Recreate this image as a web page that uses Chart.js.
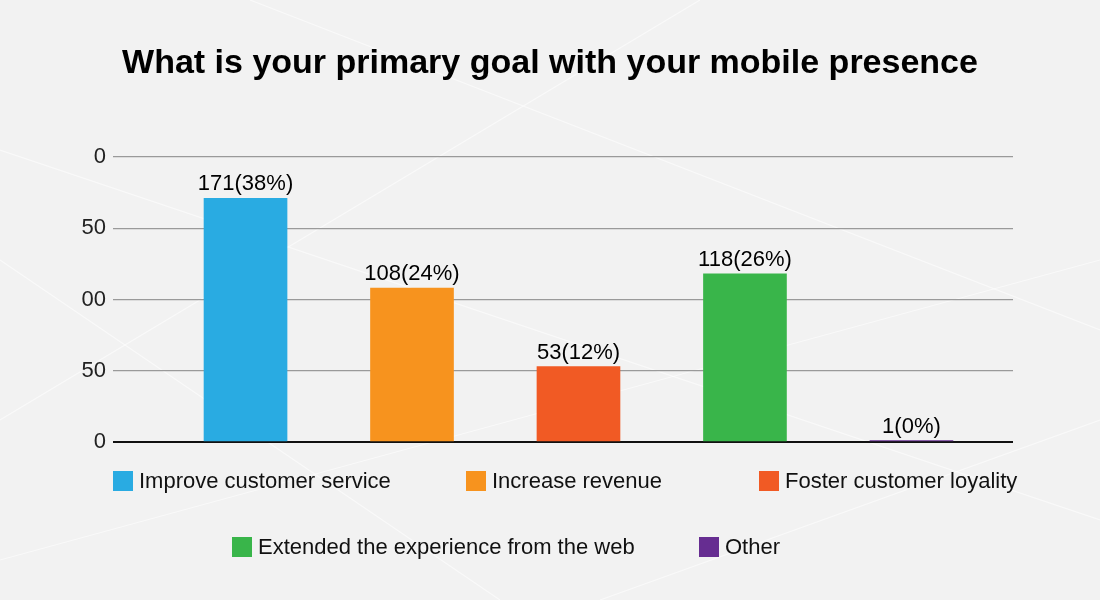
<!DOCTYPE html>
<html>
<head>
<meta charset="utf-8">
<script src="https://cdn.jsdelivr.net/npm/chart.js@4"></script>
<style>
  html, body { margin: 0; padding: 0; background: #f2f2f2; }
  canvas { display: block; }
</style>
</head>
<body>
<canvas id="c" width="1100" height="600"></canvas>
<script>
const titleText = 'What is your primary goal with your mobile presence';
const categories = ['Improve customer service', 'Increase revenue', 'Foster customer loyality', 'Extended the experience from the web', 'Other'];
const counts = [171, 108, 53, 118, 1];
const percents = ['38%', '24%', '12%', '26%', '0%'];
const colors = ['#29abe2', '#f7931e', '#f15a24', '#39b54a', '#662d91'];
const tickValues = [0, 50, 100, 150, 200];
const tickLabels = ['0', '50', '00', '50', '0'];

const FONT = '"Liberation Sans", Arial, sans-serif';

// legend layout (positions only)
const legendPos = [
  { x: 113, y: 481 }, { x: 466, y: 481 }, { x: 759, y: 481 },
  { x: 232, y: 547 }, { x: 699, y: 547 }
];

const bgPlugin = {
  id: 'bg',
  beforeDraw(chart) {
    const c = chart.ctx;
    c.save();
    c.fillStyle = '#f2f2f2';
    c.fillRect(0, 0, chart.width, chart.height);
    c.strokeStyle = 'rgba(255,255,255,0.55)';
    c.lineWidth = 1.2;
    const segs = [[0, 150, 1100, 520], [0, 560, 1100, 260], [250, 0, 1100, 330], [0, 420, 700, 0], [600, 600, 1100, 420], [0, 260, 500, 600]];
    segs.forEach(s => { c.beginPath(); c.moveTo(s[0], s[1]); c.lineTo(s[2], s[3]); c.stroke(); });
    c.restore();
  }
};

const decoPlugin = {
  id: 'deco',
  afterDraw(chart) {
    const c = chart.ctx;
    c.save();
    // title
    c.fillStyle = '#000';
    c.font = 'bold 34px ' + FONT;
    c.textAlign = 'center';
    c.textBaseline = 'middle';
    c.fillText(titleText, 550, 64);
    // value labels
    const meta = chart.getDatasetMeta(0);
    c.font = '22px ' + FONT;
    c.textAlign = 'center';
    c.textBaseline = 'bottom';
    meta.data.forEach((bar, i) => {
      c.fillText(counts[i] + '(' + percents[i] + ')', bar.x, bar.y - 3);
    });
    // legend
    c.textAlign = 'left';
    c.textBaseline = 'middle';
    categories.forEach((name, i) => {
      const p = legendPos[i];
      c.fillStyle = colors[i];
      c.fillRect(p.x, p.y - 10, 20, 20);
      c.fillStyle = '#111';
      c.fillText(name, p.x + 26, p.y + 1);
    });
    c.restore();
  }
};

new Chart(document.getElementById('c'), {
  type: 'bar',
  data: {
    datasets: [{
      data: counts.map((v, i) => ({ x: i, y: v })),
      backgroundColor: colors,
      barThickness: 83
    }]
  },
  options: {
    responsive: false,
    animation: false,
    devicePixelRatio: 1,
    layout: { padding: { top: 157, bottom: 158, left: 0, right: 87 } },
    plugins: { legend: { display: false }, title: { display: false }, tooltip: { enabled: false } },
    scales: {
      x: {
        type: 'linear',
        display: false,
        offset: false,
        min: -0.796,
        max: 4.61
      },
      y: {
        min: 0,
        max: 200,
        afterFit(scale) { scale.width = 113; },
        afterBuildTicks(scale) { scale.ticks = tickValues.map(v => ({ value: v })); },
        ticks: {
          padding: 7,
          color: '#222',
          font: { family: FONT, size: 22 },
          callback(value) { return tickLabels[tickValues.indexOf(value)]; }
        },
        grid: {
          drawTicks: false,
          color: ctx => ctx.tick && ctx.tick.value === 0 ? '#111' : '#9a9a9a',
          lineWidth: ctx => ctx.tick && ctx.tick.value === 0 ? 2 : 1.2
        },
        border: { display: false }
      }
    }
  },
  plugins: [bgPlugin, decoPlugin]
});
</script>
</body>
</html>
